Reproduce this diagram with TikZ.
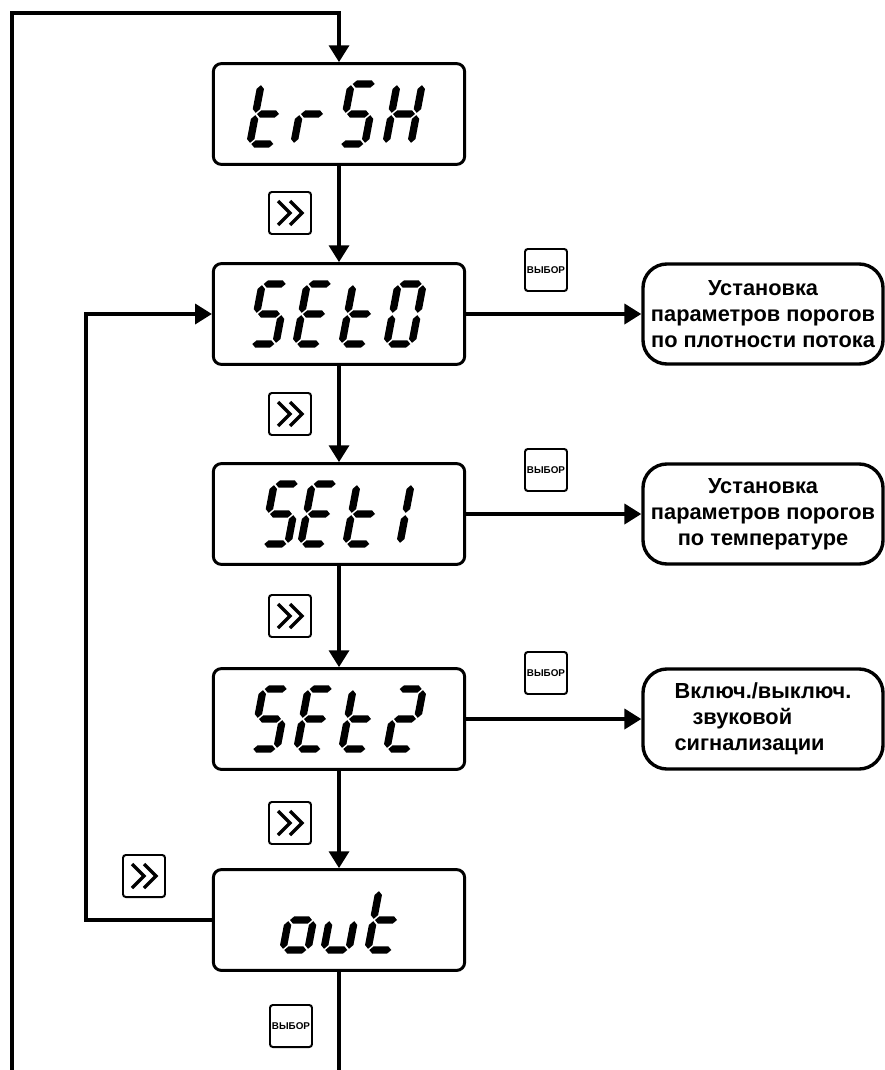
\documentclass[tikz,border=0pt]{standalone}
\usepackage{fontspec}
\setmainfont{Liberation Sans}
\usetikzlibrary{arrows.meta, positioning}

% seven-segment glyphs (picture units are pixels, y pointing down)
\newcommand\hseg[1]{(-11,#1) -- (-7.3,#1-3.7) -- (7.3,#1-3.7) -- (11,#1) -- (7.3,#1+3.7) -- (-7.3,#1+3.7) -- cycle}
\newcommand\vseg[2]{(#1,#2+1.2) -- (#1+3.7,#2+4.9) -- (#1+3.7,#2+25.1) -- (#1,#2+28.8) -- (#1-3.7,#2+25.1) -- (#1-3.7,#2+4.9) -- cycle}
\def\lcdsega{\hseg{-30}}
\def\lcdsegg{\hseg{0}}
\def\lcdsegd{\hseg{30}}
\def\lcdsegf{\vseg{-12.5}{-30}}
\def\lcdsege{\vseg{-12.5}{0}}
\def\lcdsegb{\vseg{12.5}{-30}}
\def\lcdsegc{\vseg{12.5}{0}}
\def\lcdglyphT{f,e,g,d}
\def\lcdglyphR{e,g}
\def\lcdglyphS{a,f,g,c,d}
\def\lcdglyphH{f,e,b,c,g}
\def\lcdglyphE{a,f,g,e,d}
\def\lcdglyphO{g,c,d,e}
\def\lcdglyphU{c,d,e}
\def\lcdglyphZero{a,b,c,d,e,f}
\def\lcdglyphOne{b,c}
\def\lcdglyphTwo{a,b,g,e,d}
\newcommand\lcdchar[3]{%
  \edef\lcdlist{#3}%
  \begin{scope}[shift={(#1,#2)}, xslant=0.19]
    \foreach \s in \lcdlist {\expandafter\fill\csname lcdseg\s\endcsname;}
  \end{scope}}

\begin{document}
\begin{tikzpicture}[x=0.025cm, y=-0.025cm,
    lcdbox/.style={rectangle, rounded corners=0.2cm, draw, line width=2.1pt,
                   minimum width=6.28cm, minimum height=2.52cm},
    infobox/.style={rectangle, rounded corners=0.6cm, draw, line width=2.4pt,
                    minimum width=6cm, minimum height=2.5cm, align=center,
                    inner sep=1pt, font=\bfseries\fontsize{15.5}{18.5}\selectfont},
    keybtn/.style={rectangle, rounded corners=2pt, draw, line width=1.4pt,
                   minimum size=1.05cm, inner sep=0pt,
                   font=\bfseries\fontsize{7}{8}\selectfont},
    chev/.style={line width=2.3pt, miter limit=4},
    link/.style={line width=2.5pt},
    flow/.style={link, -{Triangle[length=0.42cm, width=0.5cm]}},
  ]
  \useasboundingbox (0,0) rectangle (885,1070);

  % displays
  \node[lcdbox] (trsh) at (339,114) {};
  \node[lcdbox] (set0) at (339,314) {};
  \node[lcdbox] (set1) at (339,514) {};
  \node[lcdbox] (set2) at (339,719) {};
  \node[lcdbox] (exit) at (339,920) {};

  \foreach \cx/\g in {268/\lcdglyphT, 312/\lcdglyphR, 358/\lcdglyphS, 404/\lcdglyphH}
    \lcdchar{\cx}{114}{\g};
  \foreach \cx/\g in {269/\lcdglyphS, 314/\lcdglyphE, 360/\lcdglyphT, 405/\lcdglyphZero}
    \lcdchar{\cx}{314}{\g};
  \foreach \cx/\g in {281/\lcdglyphS, 319/\lcdglyphE, 364/\lcdglyphT, 393/\lcdglyphOne}
    \lcdchar{\cx}{514}{\g};
  \foreach \cx/\g in {270/\lcdglyphS, 315/\lcdglyphE, 360/\lcdglyphT, 405/\lcdglyphTwo}
    \lcdchar{\cx}{719}{\g};
  \foreach \cx/\g in {301/\lcdglyphO, 342/\lcdglyphU, 386/\lcdglyphT}
    \lcdchar{\cx}{920}{\g};

  % settings
  \node[infobox] (info0) at (763,314) {Установка\\параметров порогов\\по плотности потока};
  \node[infobox] (info1) at (763,514) {Установка\\параметров порогов\\по температуре};
  \node[infobox, align=left] (info2) at (763,719) {Включ./выключ.\\\hspace{0.45cm}звуковой\\сигнализации};

  % keys
  \foreach \nm/\px/\py in {nextA/290/213, nextB/290/414, nextC/290/616, nextD/290/823, nextE/144/876} {
    \node[keybtn] (\nm) at (\px,\py) {};
    \draw[chev, shift={(\nm)}] (-12,-12) -- (0,0) -- (-12,12) (0,-12) -- (12,0) -- (0,12);
  }
  \node[keybtn] (pickA) at (546,270) {ВЫБОР};
  \node[keybtn] (pickB) at (546,470) {ВЫБОР};
  \node[keybtn] (pickC) at (546,673) {ВЫБОР};
  \node[keybtn] (pickD) at (291,1026) {ВЫБОР};

  % connectors
  \draw[flow] (trsh) -- (set0);
  \draw[flow] (set0) -- (set1);
  \draw[flow] (set1) -- (set2);
  \draw[flow] (set2) -- (exit);
  \draw[flow] (set0) -- (info0);
  \draw[flow] (set1) -- (info1);
  \draw[flow] (set2) -- (info2);

  \coordinate (inner) at (86,0);
  \draw[flow] (exit.west) -| (inner |- set0.west) -- (set0.west);

  \coordinate (outerbot) at (12,1090);
  \coordinate (outertop) at (12,13);
  \draw[flow] (exit.south) |- (outerbot) -- (outertop) -| (trsh.north);
\end{tikzpicture}
\end{document}
